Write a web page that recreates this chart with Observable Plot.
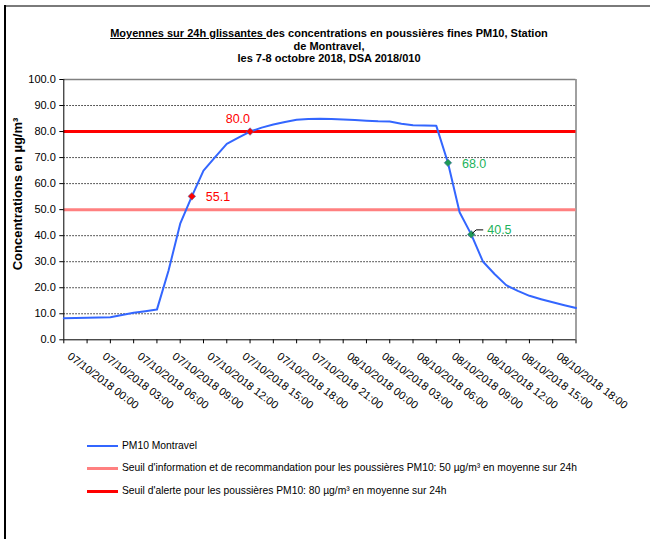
<!DOCTYPE html>
<html><head><meta charset="utf-8">
<script src="https://cdn.jsdelivr.net/npm/d3@7"></script>
<script src="https://cdn.jsdelivr.net/npm/@observablehq/plot@0.6"></script>
<style>
body{margin:0;background:#fff;}
#wrap{position:relative;width:650px;height:539px;overflow:hidden;font-family:"Liberation Sans",Arial,sans-serif;color:#000;background:#fff;}
#ftop{position:absolute;left:5px;top:5px;width:645px;height:0;border-top:2px solid #7a7a7a;}
#fleft{position:absolute;left:4px;top:5px;width:0;height:540px;border-left:2px solid #000;}
#title{position:absolute;left:99px;width:460px;top:27px;text-align:center;font-weight:bold;font-size:11px;line-height:12.5px;white-space:nowrap;}
#ylab{position:absolute;left:17px;top:194px;transform:translate(-50%,-50%) rotate(-90deg);font-weight:bold;font-size:13px;white-space:nowrap;}
#chart{position:absolute;left:0;top:0;}
.leg{position:absolute;left:87px;font-size:10.3px;white-space:nowrap;}
.leg span.sw{position:absolute;left:0;width:31px;}
.leg span.tx{position:absolute;left:35px;top:-6px;}
</style></head><body>
<div id="wrap">
  <div id="ftop"></div><div id="fleft"></div>
  <div id="title"><u>Moyennes sur 24h glissantes </u>des concentrations en poussières fines PM10, Station<br>de Montravel,<br>les 7-8 octobre 2018, DSA 2018/010</div>
  <div id="ylab">Concentrations en µg/m³</div>
  <div id="chart"></div>
  <div id="legend"></div>
</div>
<script>
// ---- data ----
const startISO = "2018-10-07T00:00:00Z";
// hourly 24h rolling means, 07/10/2018 00:00 -> 08/10/2018 20:00
const pm10 = [8.3, 8.4, 8.5, 8.6, 8.7, 9.5, 10.4, 11.0, 11.6, 26.6,
              44.6, 55.1, 65.0, 70.2, 75.3, 77.7, 80.0, 81.5, 82.7, 83.7,
              84.5, 84.8, 84.9, 84.8, 84.6, 84.4, 84.2, 84.0, 83.9, 83.0,
              82.4, 82.3, 82.2, 68.0, 49.0, 40.5, 30.1, 25.3, 21.0, 18.8,
              16.9, 15.6, 14.4, 13.3, 12.2];
const tickLabels = ["07/10/2018 00:00","07/10/2018 03:00","07/10/2018 06:00","07/10/2018 09:00",
  "07/10/2018 12:00","07/10/2018 15:00","07/10/2018 18:00","07/10/2018 21:00",
  "08/10/2018 00:00","08/10/2018 03:00","08/10/2018 06:00","08/10/2018 09:00",
  "08/10/2018 12:00","08/10/2018 15:00","08/10/2018 18:00"];
const tickLabelHours = [0,3,6,9,12,15,18,21,24,27,30,33,36,39,42];
const tickMarkHours = [0,2,4,6,8,10,12,14,16,18,20,22,24,26,28,30,32,34,36,38,40,42,44];
const yTicks = [0,10,20,30,40,50,60,70,80,90,100];
const gridValues = [10,20,30,40,50,60,70,80,90];
const thresholdInfo = 50;
const thresholdAlert = 80;
const markerHours = [11, 16, 33, 35];
const markerValues = [55.1, 80.0, 68.0, 40.5];
const markerLabels = ["55.1", "80.0", "68.0", "40.5"];
const markerKind = ["up", "up", "down", "down"];
const seriesNames = ["PM10 Montravel",
  "Seuil d'information et de recommandation pour les poussières PM10: 50 µg/m³ en moyenne sur 24h",
  "Seuil d'alerte pour les poussières PM10: 80 µg/m³ en moyenne sur 24h"];

// ---- build ----
const t0 = new Date(startISO).getTime();
const hd = h => new Date(t0 + h * 3600e3);
const series = pm10.map((v, i) => ({date: hd(i), value: v}));
const markers = markerHours.map((h, i) => ({date: hd(h), value: markerValues[i], label: markerLabels[i], kind: markerKind[i]}));
const labelsData = tickLabelHours.map((h, i) => ({date: hd(h), label: tickLabels[i]}));

const BLUE = "#3366ff", PINK = "#ff8080", RED = "#ff0000", GREEN_D = "#1f9a55", GREEN_T = "#22b35c";
const leader = {draw(ctx){ ctx.moveTo(1,-1); ctx.lineTo(5,-4.5); ctx.lineTo(12,-4.5); }};
const only = lab => markers.filter(d => d.label === lab);

const chart = Plot.plot({
  width: 650, height: 430,
  marginTop: 79, marginBottom: 90.7, marginLeft: 63.3, marginRight: 74.5,
  style: {fontFamily: '"Liberation Sans", Arial, sans-serif', color: "#000", background: "transparent", overflow: "visible"},
  x: {type: "utc", domain: [hd(0), hd(pm10.length - 1)]},
  y: {domain: [0, 100]},
  marks: [
    Plot.ruleY(gridValues, {stroke: "#000", strokeDasharray: "1.5,1.5", strokeWidth: 1, strokeOpacity: 0.85}),
    Plot.ruleY([100], {stroke: "#808080", strokeWidth: 1.5}),
    Plot.ruleX([hd(pm10.length - 1)], {stroke: "#808080", strokeWidth: 1.5}),
    Plot.ruleY([thresholdInfo], {stroke: PINK, strokeWidth: 3}),
    Plot.ruleY([thresholdAlert], {stroke: RED, strokeWidth: 3}),
    Plot.axisY({ticks: yTicks, tickFormat: d => d.toFixed(1), tickSize: 4, tickPadding: 4, fontSize: 11, label: null}),
    Plot.axisX({ticks: tickMarkHours.map(hd), tickFormat: () => "", tickSize: 4, label: null}),
    Plot.ruleX([hd(0)], {stroke: "#000", strokeWidth: 1}),
    Plot.ruleY([0], {stroke: "#000", strokeWidth: 1}),
    Plot.text(labelsData, {x: "date", frameAnchor: "bottom", text: "label", rotate: 37, textAnchor: "start", dx: 3, dy: 18, fontSize: 11, fill: "#000"}),
    Plot.line(series, {x: "date", y: "value", stroke: BLUE, strokeWidth: 2}),
    Plot.dot(markers, {x: "date", y: "value", symbol: "square", rotate: 45, r: 3,
      fill: d => d.kind === "up" ? RED : GREEN_D, stroke: "#5070b0", strokeWidth: 0.6}),
    Plot.dot(only("40.5"), {x: "date", y: "value", symbol: leader, fill: "none", stroke: "#000", strokeWidth: 1}),
    Plot.text(only("55.1"), {x: "date", y: "value", text: "label", fill: RED, fontSize: 12.5, textAnchor: "start", dx: 14, dy: 1}),
    Plot.text(only("80.0"), {x: "date", y: "value", text: "label", fill: RED, fontSize: 12.5, textAnchor: "end", dx: 0, dy: -13}),
    Plot.text(only("68.0"), {x: "date", y: "value", text: "label", fill: GREEN_T, fontSize: 12.5, textAnchor: "start", dx: 14, dy: 1.5}),
    Plot.text(only("40.5"), {x: "date", y: "value", text: "label", fill: GREEN_T, fontSize: 12.5, textAnchor: "start", dx: 16, dy: -4})
  ]
});
document.getElementById("chart").appendChild(chart);

// legend
const legColors = [BLUE, PINK, RED];
const legWidths = [2, 3, 3];
const legY = [446, 468, 491];
const leg = document.getElementById("legend");
seriesNames.forEach((name, i) => {
  const row = document.createElement("div");
  row.className = "leg";
  row.style.top = legY[i] + "px";
  const sw = document.createElement("span");
  sw.className = "sw";
  sw.style.top = (-legWidths[i] / 2) + "px";
  sw.style.height = legWidths[i] + "px";
  sw.style.background = legColors[i];
  const tx = document.createElement("span");
  tx.className = "tx";
  tx.textContent = name;
  row.appendChild(sw); row.appendChild(tx);
  leg.appendChild(row);
});
</script>
</body></html>
